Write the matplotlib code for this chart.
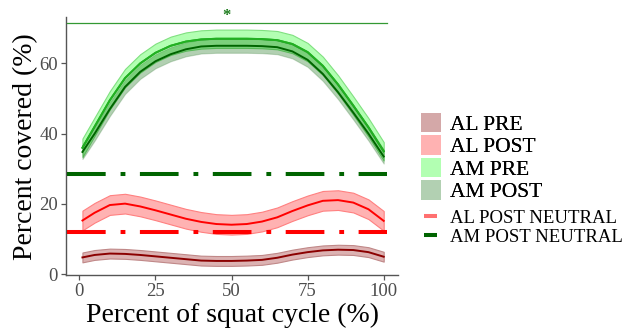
import numpy as np
import matplotlib
matplotlib.use("Agg")
import matplotlib.pyplot as plt
from matplotlib.patches import Patch
from matplotlib.lines import Line2D

plt.rcParams['font.family'] = ['Liberation Serif', 'DejaVu Serif']

# ---- data ----
cycle = [1, 5, 10, 15, 20, 25, 30, 35, 40, 45, 50, 55, 60, 65, 70, 75, 80, 85, 90, 95, 100]
al_pre = [4.8, 5.5, 5.9, 5.8, 5.5, 5.1, 4.7, 4.3, 3.9, 3.8, 3.8, 3.9, 4.1, 4.7, 5.6, 6.3, 6.8, 7.0, 6.9, 6.3, 5.0]
al_pre_sd = 1.4
al_post = [15.3, 17.5, 19.7, 20.1, 19.3, 18.2, 17.0, 15.8, 14.9, 14.3, 14.1, 14.3, 15.0, 16.2, 18.0, 19.6, 20.9, 21.1, 20.4, 18.5, 15.2]
al_post_sd = 2.8
am_pre = [36.0, 42.0, 49.5, 55.8, 60.0, 63.0, 65.0, 66.2, 66.8, 67.0, 67.0, 67.0, 66.9, 66.6, 65.5, 63.2, 59.3, 54.0, 48.0, 41.8, 35.0]
am_pre_sd = 2.6
am_post = [34.8, 40.0, 47.0, 53.3, 57.6, 60.6, 62.6, 64.0, 64.8, 65.0, 65.0, 65.0, 64.9, 64.6, 63.4, 61.0, 57.0, 51.8, 46.0, 40.0, 33.5]
am_post_sd = 2.0
al_post_neutral = 12.0
am_post_neutral = 28.5
sig_y = 71.5
sig_x = 48.5
x_ticks = [0, 25, 50, 75, 100]
y_ticks = [0, 20, 40, 60]

W, H = 636, 328
fig = plt.figure(figsize=(W / 100, H / 100), dpi=100)
ax = fig.add_axes([65.7 / W, 1 - 275 / H, (398.3 - 65.7) / W, (275 - 17.3) / H])

xs = np.array(cycle)

def band(mean, sd, fill, edge, line, lw=1.4, z=2):
    m = np.array(mean)
    ax.fill_between(xs, m - sd, m + sd, facecolor=fill, edgecolor=edge, linewidth=0.8, zorder=z)
    ax.plot(xs, m, color=line, lw=lw, zorder=z + 0.5)

band(al_pre, al_pre_sd, '#dcb2b2', '#c08888', '#8b0000')
band(al_post, al_post_sd, '#ffb2b2', '#ff8080', '#ff0000')
band(am_pre, am_pre_sd, '#b2ffb2', '#80e080', '#22b022', z=2)
ax.fill_between(xs, np.array(am_post) - am_post_sd, np.array(am_post) + am_post_sd,
                facecolor='#006400', alpha=0.3, edgecolor='#4c8c4c', linewidth=0.8, zorder=3)
ax.plot(xs, am_pre, color='#22b022', lw=1.4, zorder=3.2)
ax.plot(xs, am_post, color='#006400', lw=1.4, zorder=3.5)

xmin, xmax = -4.5, 104.8
dash = (9.6, 3.7, 1.2, 3.6)
for yv, c in [(am_post_neutral, '#006400'), (al_post_neutral, '#ff0000')]:
    ln, = ax.plot([xmin + 0.4, 101], [yv, yv], color=c, lw=2.9, solid_capstyle='butt',
                  dash_capstyle='butt', zorder=4)
    ln.set_dashes(dash)

ax.plot([-4, 101], [sig_y, sig_y], color='#339933', lw=0.9, zorder=4, clip_on=False)
ax.text(sig_x, sig_y + 2.0, '*', color='#1a7a1a', fontsize=12, ha='center', va='center',
        fontweight='bold')

ax.set_xlim(xmin, xmax)
ax.set_ylim(-0.2, 73.1)
ax.set_xticks(x_ticks)
ax.set_yticks(y_ticks)
for s in ['top', 'right']:
    ax.spines[s].set_visible(False)
for s in ['left', 'bottom']:
    ax.spines[s].set_color('#555555')
    ax.spines[s].set_linewidth(1.0)
ax.tick_params(colors='#555555', labelcolor='#4d4d4d', labelsize=13.5, length=3.5, width=0.9, pad=2)
ax.set_xlabel('Percent of squat cycle (%)', fontsize=20, labelpad=2)
ax.set_ylabel('Percent covered (%)', fontsize=20, labelpad=1)

h1 = [Patch(facecolor='#d4a8a8', edgecolor='none'),
      Patch(facecolor='#ffb2b2', edgecolor='none'),
      Patch(facecolor='#b2ffb2', edgecolor='none'),
      Patch(facecolor='#b2d0b2', edgecolor='none')]
l1 = ['AL PRE', 'AL POST', 'AM PRE', 'AM POST']
leg1 = fig.legend(h1, l1, loc='upper left', bbox_to_anchor=(420.7 / W, 1 - 113 / H),
                  frameon=False, fontsize=15.5, handlelength=0.95, handleheight=1.0,
                  labelspacing=0.02, handletextpad=0.42, borderpad=0, borderaxespad=0)
h2 = [Line2D([], [], color='#ff7070', lw=2.9, solid_capstyle='butt'),
      Line2D([], [], color='#006400', lw=2.9, solid_capstyle='butt')]
l2 = ['AL POST NEUTRAL', 'AM POST NEUTRAL']
leg2 = fig.legend(h2, l2, loc='upper left', bbox_to_anchor=(424 / W, 1 - 209.5 / H),
                  frameon=False, fontsize=13.5, handlelength=0.7, labelspacing=0.12,
                  handletextpad=0.7, borderpad=0, borderaxespad=0)
fig.add_artist(leg1)

fig.savefig('out.png', dpi=100)
